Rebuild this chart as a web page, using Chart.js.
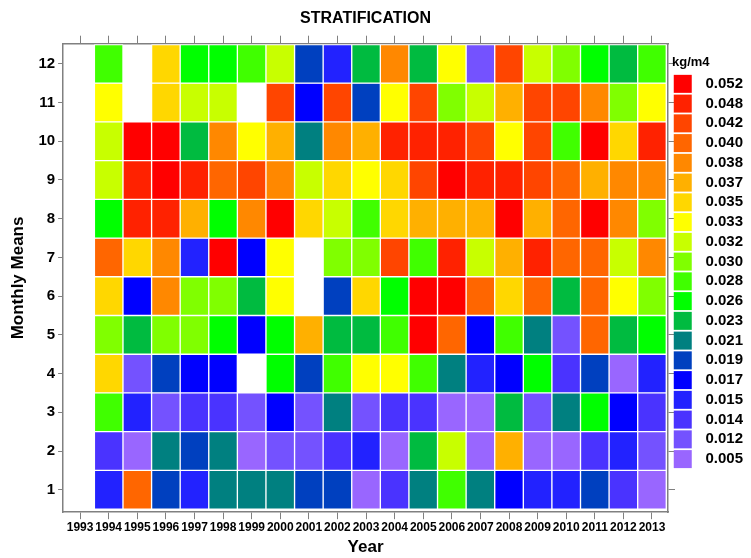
<!DOCTYPE html>
<html><head><meta charset="utf-8">
<script src="https://cdn.jsdelivr.net/npm/chart.js@4.4.0/dist/chart.umd.min.js"></script>
<style>html,body{margin:0;padding:0;background:#fff}</style>
</head><body>
<canvas id="c" width="751" height="558"></canvas>
<script>
const years = [1993,1994,1995,1996,1997,1998,1999,2000,2001,2002,2003,2004,2005,2006,2007,2008,2009,2010,2011,2012,2013];
const months = [1,2,3,4,5,6,7,8,9,10,11,12];
const legendValues = [0.052,0.048,0.042,0.040,0.038,0.037,0.035,0.033,0.032,0.030,0.028,0.026,0.023,0.021,0.019,0.017,0.015,0.014,0.012,0.005];
const legendColors = ['#FF0000','#FF2200','#FF4500','#FF6600','#FF8800','#FFB000','#FFD700','#FFFF00','#C8FF00','#80FF00','#40FF00','#00FF00','#00BB40','#008080','#0040BF','#0000FF','#2222FF','#4A33FF','#7452FF','#9966FF'];

// values per month, one entry per year (1993..2013); null = no data
const m01 = [null,.015,.040,.019,.015,.021,.021,.021,.019,.019,.005,.014,.021,.028,.021,.017,.015,.015,.019,.014,.005];
const m02 = [null,.014,.005,.021,.019,.021,.005,.012,.012,.014,.015,.005,.023,.032,.005,.037,.005,.005,.014,.015,.012];
const m03 = [null,.028,.015,.012,.014,.014,.012,.017,.012,.021,.012,.014,.014,.005,.005,.023,.012,.021,.026,.017,.014];
const m04 = [null,.035,.012,.019,.017,.017,null,.026,.019,.028,.033,.033,.028,.021,.015,.017,.026,.014,.019,.005,.015];
const m05 = [null,.030,.023,.030,.030,.026,.017,.026,.037,.023,.023,.028,.052,.040,.017,.028,.021,.012,.040,.023,.026];
const m06 = [null,.035,.017,.038,.030,.030,.023,.033,null,.019,.035,.026,.052,.052,.040,.035,.040,.023,.040,.033,.030];
const m07 = [null,.040,.035,.038,.015,.052,.017,.033,null,.030,.030,.042,.028,.048,.032,.037,.048,.040,.040,.032,.038];
const m08 = [null,.026,.048,.048,.037,.026,.038,.052,.035,.032,.028,.035,.037,.037,.037,.052,.037,.040,.052,.038,.030];
const m09 = [null,.032,.048,.052,.048,.040,.042,.038,.032,.035,.033,.035,.042,.052,.048,.048,.042,.040,.037,.038,.038];
const m10 = [null,.032,.052,.052,.023,.038,.033,.037,.021,.038,.037,.048,.048,.048,.042,.033,.042,.028,.052,.035,.048];
const m11 = [null,.033,null,.035,.032,.032,null,.042,.017,.042,.019,.033,.042,.030,.032,.037,.042,.042,.038,.030,.033];
const m12 = [null,.028,null,.035,.026,.026,.028,.032,.019,.015,.023,.038,.023,.033,.012,.042,.032,.030,.026,.023,.028];
const monthRows = [m01,m02,m03,m04,m05,m06,m07,m08,m09,m10,m11,m12];

function colorFor(v){
  const i = legendValues.findIndex(l => Math.abs(l - v) < 1e-9);
  return i >= 0 ? legendColors[i] : '#ffffff';
}

const cells = [];
monthRows.forEach((row, mi) => row.forEach((v, yi) => {
  if (v !== null) cells.push({x: years[yi], y: [months[mi] - 0.5, months[mi] + 0.5], v: v});
}));

const XMIN = 1992.405, XMAX = 2013.56, YMIN = 0.42, YMAX = 12.52;
const axisGray = '#808080';
const FONT = "'Liberation Sans', Arial, sans-serif";
Chart.defaults.font.family = FONT;

new Chart(document.getElementById('c'), {
  type: 'bar',
  data: {
    datasets: [{
      data: cells,
      backgroundColor: ctx => colorFor(ctx.raw ? ctx.raw.v : null),
      borderColor: '#ffffff',
      borderWidth: 1,
      borderSkipped: false,
      barPercentage: 1,
      categoryPercentage: 1
    }]
  },
  options: {
    responsive: false,
    devicePixelRatio: 1,
    animation: false,
    layout: { padding: { left: 4, right: 8, top: 0, bottom: 0 } },
    scales: {
      x: {
        type: 'linear', position: 'bottom', min: XMIN, max: XMAX, offset: false,
        afterBuildTicks: s => { s.ticks = years.map(v => ({value: v})); },
        ticks: { autoSkip: false, maxRotation: 0, minRotation: 0, padding: 1, color: '#000',
                 font: { size: 12, weight: 'bold' }, callback: v => String(v) },
        grid: { drawOnChartArea: false, drawTicks: true, tickLength: 7, color: axisGray, offset: false },
        border: { display: true, color: axisGray, width: 1.5 },
        title: { display: true, text: 'Year', color: '#000', font: { size: 17, weight: 'bold' }, padding: { top: 2, bottom: 0 } }
      },
      xTop: {
        type: 'linear', axis: 'x', position: 'top', min: XMIN, max: XMAX, offset: false, display: true,
        afterBuildTicks: s => { s.ticks = years.map(v => ({value: v})); },
        ticks: { display: false },
        grid: { drawOnChartArea: false, drawTicks: true, tickLength: 8, color: axisGray, offset: false },
        border: { display: true, color: axisGray, width: 1.5 }
      },
      y: {
        type: 'linear', position: 'left', min: YMIN, max: YMAX,
        afterBuildTicks: s => { s.ticks = months.map(v => ({value: v})); },
        ticks: { padding: 3, color: '#000', font: { size: 15, weight: 'bold' }, callback: v => String(v) },
        grid: { drawOnChartArea: false, drawTicks: true, tickLength: 5, color: axisGray },
        border: { display: true, color: axisGray, width: 1.5 },
        title: { display: true, text: 'Monthly Means', color: '#000', font: { size: 17, weight: 'bold' }, padding: { top: 4, bottom: 7 } }
      },
      yRight: {
        type: 'linear', axis: 'y', position: 'right', min: YMIN, max: YMAX, display: true,
        afterBuildTicks: s => { s.ticks = months.map(v => ({value: v})); },
        afterFit: s => { s.width = 4; },
        ticks: { display: false },
        grid: { drawOnChartArea: false, drawTicks: true, tickLength: 7, color: axisGray },
        border: { display: true, color: axisGray, width: 1.5 }
      }
    },
    plugins: {
      tooltip: { enabled: false },
      title: {
        display: true, text: 'STRATIFICATION', color: '#000', fullSize: false,
        font: { size: 16, weight: 'bold' }, padding: { top: 9, bottom: 7.5 }
      },
      legend: {
        display: true, position: 'right', align: 'start', onClick: null, maxWidth: 71,
        title: { display: true, text: 'kg/m4', position: 'start', color: '#000',
                 font: { size: 13, weight: 'bold' }, padding: { top: 56, bottom: 1.5 } },
        labels: {
          boxWidth: 18, boxHeight: 18, padding: 1.75, color: '#000', textAlign: 'right',
          font: { size: 15, weight: 'bold' },
          generateLabels: () => legendValues.map((v, i) => ({
            text: v.toFixed(3), fillStyle: legendColors[i], strokeStyle: '#ffffff',
            lineWidth: 0, hidden: false, datasetIndex: 0, fontColor: '#000'
          }))
        }
      }
    }
  }
});
</script>
</body></html>
